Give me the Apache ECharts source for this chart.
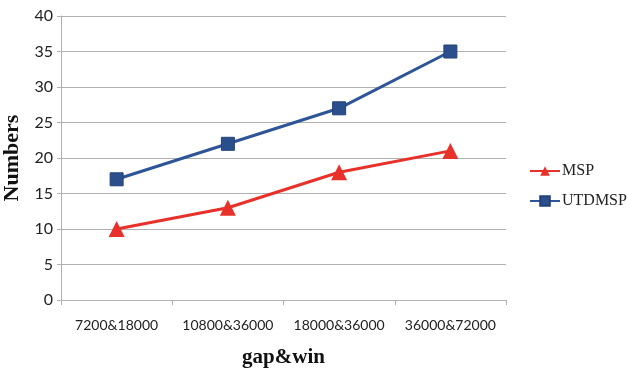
<!DOCTYPE html>
<html><head><meta charset="utf-8">
<script src="https://cdn.jsdelivr.net/npm/echarts@6/dist/echarts.min.js"></script>
<style>html,body{margin:0;padding:0;background:#fff}#c{width:627px;height:369px}</style>
</head><body><div id="c"></div>
<script>
const categories = ['7200&18000','10800&36000','18000&36000','36000&72000'];
const mspValues = [10, 13, 18, 21];
const utdmspValues = [17, 22, 27, 35];
const yTicks = [0,5,10,15,20,25,30,35,40];

const chart = echarts.init(document.getElementById('c'));
chart.setOption({
  animation: false,
  backgroundColor: '#fff',
  grid: {left: 61, right: 121, top: 16, bottom: 69, outerBoundsMode: 'none', containLabel: false},
  legend: {
    orient: 'vertical', left: 524, top: 158, itemGap: 14,
    itemWidth: 30, itemHeight: 12,
    textStyle: {fontFamily: 'Liberation Serif', fontSize: 16, color: '#222', padding: [0,0,0,-3]},
    data: ['MSP','UTDMSP']
  },
  xAxis: {
    type: 'category', data: categories, boundaryGap: true,
    name: 'gap&win', nameLocation: 'middle', nameGap: 47,
    nameTextStyle: {fontFamily: 'Liberation Serif', fontWeight: 'bold', fontSize: 21, color: '#111'},
    axisLine: {lineStyle: {color: '#b0b0b0', width: 1}},
    axisTick: {show: true, alignWithLabel: false, length: 5, lineStyle: {color: '#b0b0b0'}},
    axisLabel: {interval: 0, fontFamily: 'Lato', fontSize: 14, color: '#222', margin: 18}
  },
  yAxis: {
    type: 'value', min: 0, max: 40, interval: 5,
    name: 'Numbers', nameLocation: 'middle', nameGap: 32, nameRotate: 90,
    nameTextStyle: {fontFamily: 'Liberation Serif', fontWeight: 'bold', fontSize: 22, color: '#111'},
    axisLine: {show: true, lineStyle: {color: '#b0b0b0'}},
    axisTick: {show: true, length: 4, lineStyle: {color: '#b0b0b0'}},
    axisLabel: {fontFamily: 'Lato', fontSize: 16, color: '#222', margin: 8,
      formatter: v => yTicks.includes(v) ? String(v) : ''},
    splitLine: {lineStyle: {color: '#b0b0b0', width: 1}}
  },
  series: [
    {name: 'MSP', type: 'line', data: mspValues, symbol: 'triangle', symbolSize: 16,
      lineStyle: {color: '#e8312a', width: 3}, itemStyle: {color: '#e8312a'}},
    {name: 'UTDMSP', type: 'line', data: utdmspValues, symbol: 'rect', symbolSize: 13,
      lineStyle: {color: '#2e5597', width: 3}, itemStyle: {color: '#2b4f8c', borderColor: '#234277', borderWidth: 1}}
  ]
});
</script></body></html>
